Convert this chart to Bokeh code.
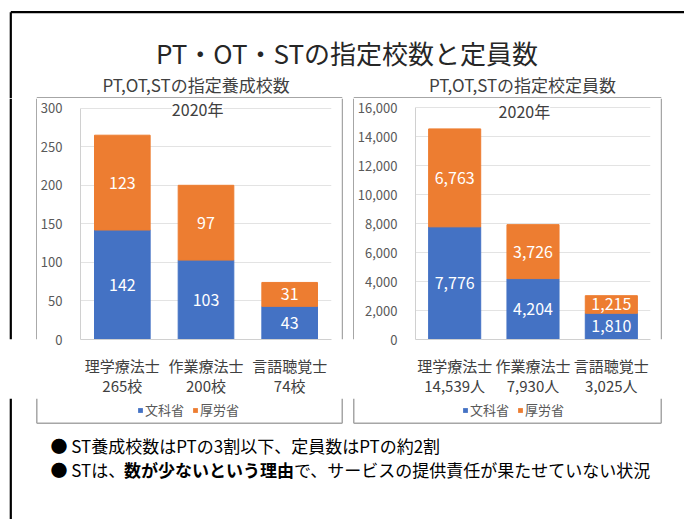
from bokeh.plotting import figure
from bokeh.models import (Range1d, FactorRange, ColumnDataSource, Legend, LegendItem,
                          Label, NumeralTickFormatter, FixedTicker)
from bokeh.layouts import column, row
from bokeh.embed import file_html
from bokeh.resources import INLINE
from bokeh.core.properties import value

FONT = "Noto Sans CJK JP"
BLUE = "#4472C4"
ORANGE = "#ED7D31"

# ---------------- data ----------------
jobs = ["理学療法士", "作業療法士", "言語聴覚士"]
series = ["文科省", "厚労省"]
schools_mext = [142, 103, 43]
schools_mhlw = [123, 97, 31]
capacity_mext = [7776, 4204, 1810]
capacity_mhlw = [6763, 3726, 1215]
schools_ticks = [0, 50, 100, 150, 200, 250, 300]
capacity_ticks = [0, 2000, 4000, 6000, 8000, 10000, 12000, 14000, 16000]
year_label = "2020年"
main_title = "PT・OT・STの指定校数と定員数"
sub_title1 = "PT,OT,STの指定養成校数"
sub_title2 = "PT,OT,STの指定校定員数"
bullet1 = "● ST養成校数はPTの3割以下、定員数はPTの約2割"
bullet2 = ["● STは、", "数が少ないという理由", "で、サービスの提供責任が果たせていない状況"]

W = 684
H_TOP, H_MID, H_BOT = 98, 300, 121
BOX_GRAY = "#a6a6a6"
FX = 10.3          # slide frame left line
B1L, B1R, B2L, B2R = 36.3, 341.75, 353.25, 660.75   # chart boxes


def deco(w, h):
    f = figure(width=w, height=h, x_range=Range1d(0, w), y_range=Range1d(h, 0),
               output_backend="svg", toolbar_location=None, min_border=0,
               x_axis_location=None, y_axis_location=None,
               outline_line_color=None, background_fill_color="white",
               border_fill_color="white")
    f.grid.visible = False
    return f


def make_chart(width, mext, mhlw, unit, ticks, ytop, left, title_x, title_y):
    totals = [a + b for a, b in zip(mext, mhlw)]
    cats = [f"{j}\n{t:,}{unit}" for j, t in zip(jobs, totals)]
    src = ColumnDataSource(dict(
        cat=cats, mext=mext, mhlw=mhlw,
        mid1=[v / 2 for v in mext],
        mid2=[a + b / 2 for a, b in zip(mext, mhlw)],
        lab1=[f"{v:,}" for v in mext],
        lab2=[f"{v:,}" for v in mhlw]))
    p = figure(width=width, height=H_MID, x_range=FactorRange(*cats),
               y_range=Range1d(0, ytop), output_backend="svg",
               toolbar_location=None, min_border_left=left, min_border_right=10,
               min_border_top=0, min_border_bottom=52,
               outline_line_color=None, background_fill_color="white",
               border_fill_color="white")
    p.vbar_stack(["mext", "mhlw"], x="cat", width=0.665,
                 color=[BLUE, ORANGE], source=src)
    for y, t in (("mid1", "lab1"), ("mid2", "lab2")):
        p.text(x="cat", y=y, text=t, source=src, text_color="white",
               text_align="center", text_baseline="middle",
               text_font=value(FONT), text_font_size="16px")
    p.xgrid.grid_line_color = None
    p.ygrid.grid_line_color = "#e3e3e3"
    p.ygrid.ticker = FixedTicker(ticks=ticks)
    p.yaxis.ticker = FixedTicker(ticks=ticks)
    p.yaxis.bounds = (ticks[0], ticks[-1])
    p.yaxis.formatter = NumeralTickFormatter(format="0,0")
    p.yaxis.major_label_text_font = FONT
    p.yaxis.major_label_text_font_size = "13px"
    p.yaxis.major_label_text_color = "#595959"
    p.yaxis.major_tick_line_color = None
    p.yaxis.minor_tick_line_color = None
    p.yaxis.axis_line_color = "#d0d0d0"
    p.yaxis.major_label_standoff = 12
    p.xaxis.major_label_text_font = FONT
    p.xaxis.major_label_text_font_size = "15px"
    p.xaxis.major_label_text_color = "#404040"
    p.xaxis.major_label_text_line_height = 0.97
    p.xaxis.major_tick_line_color = None
    p.xaxis.axis_line_color = "#d0d0d0"
    p.xaxis.major_label_standoff = 9
    p.xaxis.major_label_orientation = "horizontal"
    p.add_layout(Label(x=title_x, y=title_y, text=year_label, text_align="center",
                       text_baseline="middle", text_font=FONT,
                       text_font_size="16px", text_color="#404040",
                       background_fill_color="white"))
    return p


# ---------------- top ----------------
top = deco(W, H_TOP)
top.segment(x0=[FX, FX], y0=[11.7, 11.7], x1=[W, FX], y1=[11.7, H_TOP],
            line_color="black", line_width=2.2)
top.segment(x0=[B1L, B2L], y0=[97.3, 97.3], x1=[B1R, B2R], y1=[97.3, 97.3],
            line_color=BOX_GRAY, line_width=1.5)
top.text(x=[346.5], y=[51.5], text=[main_title], text_font=value(FONT),
         text_font_size="26px", text_align="center", text_baseline="middle",
         text_color="#262626")
top.text(x=[195.6, 522], y=[84, 84], text=[sub_title1, sub_title2],
         text_font=value(FONT), text_font_size="17px", text_align="center",
         text_baseline="middle", text_color="#404040")

# ---------------- middle ----------------
lsp = deco(37, H_MID)
lsp.segment(x0=[FX], y0=[0], x1=[FX], y1=[H_MID], line_color="black", line_width=2.2)
lsp.segment(x0=[B1L], y0=[0], x1=[B1L], y1=[H_MID], line_color=BOX_GRAY, line_width=1.5)

gap = deco(13, H_MID)
gap.segment(x0=[B1R - 341, B2L - 341], y0=[0, 0], x1=[B1R - 341, B2L - 341],
            y1=[H_MID, H_MID], line_color=BOX_GRAY, line_width=1.5)

rsp = deco(24, H_MID)
rsp.segment(x0=[B2R - 660], y0=[0], x1=[B2R - 660], y1=[H_MID],
            line_color=BOX_GRAY, line_width=1.5)

chart1 = make_chart(304, schools_mext, schools_mhlw, "校", schools_ticks,
                    312.6, 42, 1.4, 298.4)
chart2 = make_chart(306, capacity_mext, capacity_mhlw, "人", capacity_ticks,
                    16637, 57, 1.39, 15750)

# ---------------- bottom (legends, box bottoms, bullets) ----------------
bot = deco(W, H_BOT)
bot.segment(x0=[FX], y0=[0], x1=[FX], y1=[H_BOT], line_color="black", line_width=2.2)
bot.segment(x0=[B1L, B1R, B2L, B2R], y0=[0, 0, 0, 0], x1=[B1L, B1R, B2L, B2R],
            y1=[24.7] * 4, line_color=BOX_GRAY, line_width=1.5)
bot.segment(x0=[B1L, B2L], y0=[24.7, 24.7], x1=[B1R, B2R], y1=[24.7, 24.7],
            line_color=BOX_GRAY, line_width=1.5)
# zero-size swatch renderers carrying the series colours for the legends
r_mext = bot.vbar(x=[0], top=[0], bottom=[0], width=0, fill_color=BLUE, line_color=None)
r_mhlw = bot.vbar(x=[0], top=[0], bottom=[0], width=0, fill_color=ORANGE, line_color=None)
for lx in (137, 462):
    bot.add_layout(Legend(items=[LegendItem(label=series[0], renderers=[r_mext]),
                                 LegendItem(label=series[1], renderers=[r_mhlw])],
                          orientation="horizontal", location=(lx, 100),
                          glyph_width=6, glyph_height=6, label_standoff=2,
                          spacing=8, padding=0, margin=0, border_line_color=None,
                          background_fill_alpha=0, label_height=18,
                          label_text_font=FONT, label_text_font_size="13px",
                          label_text_color="#595959"))
bot.text(x=[50], y=[47], text=[bullet1], text_font=value(FONT),
         text_font_size="17px", text_align="left", text_baseline="middle",
         text_color="black")
bx = [50, 123.5, 293.5]
bot.text(x=[bx[0], bx[2]], y=[71, 71], text=[bullet2[0], bullet2[2]],
         text_font=value(FONT), text_font_size="17px", text_align="left",
         text_baseline="middle", text_color="black")
bot.text(x=[bx[1]], y=[71], text=[bullet2[1]], text_font=value(FONT),
         text_font_size="17px", text_font_style="bold", text_align="left",
         text_baseline="middle", text_color="black")

layout = column(top, row(lsp, chart1, gap, chart2, rsp), bot)

open("out.html", "w").write(file_html(layout, INLINE))
